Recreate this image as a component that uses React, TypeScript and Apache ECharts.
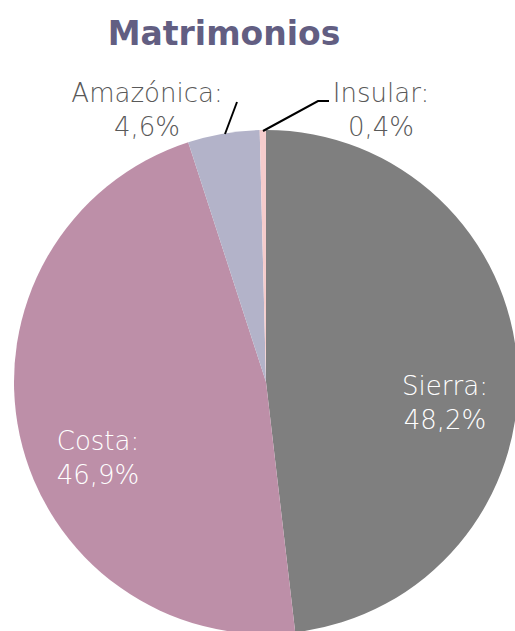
import React, { useEffect, useRef } from "react";
import * as echarts from "echarts";

const categories = ["Sierra", "Costa", "Amazónica", "Insular"];
const values = [48.2, 46.9, 4.6, 0.4];
const valueLabels = ["48,2%", "46,9%", "4,6%", "0,4%"];
const colors = ["#7f7f7f", "#bd8fa8", "#b3b3c9", "#f5cccc"];

const FONT = "'DejaVu Sans', sans-serif";

export default function App() {
  const ref = useRef<HTMLDivElement>(null);
  useEffect(() => {
    if (!ref.current) return;
    const chart = echarts.init(ref.current, null, { renderer: "svg" });
    const labelPos: Record<number, { x: number; y: number }> = {
      0: { x: 445, y: 403 },
      1: { x: 98, y: 458 },
      2: { x: 147, y: 110 },
      3: { x: 381, y: 110 },
    };
    const leaderLines = [
      [[225, 134], [237, 102]],
      [[263, 131], [318, 101], [329, 101]],
    ];
    chart.setOption({
      animation: false,
      title: {
        text: "Matrimonios",
        left: 219,
        top: 12,
        textAlign: "center",
        textStyle: {
          fontFamily: FONT,
          fontWeight: "bold",
          fontSize: 33,
          color: "#625e82",
        },
      },
      graphic: leaderLines.map((pts) => ({
        type: "polyline",
        z: 100,
        shape: { points: pts },
        style: { stroke: "#000000", lineWidth: 2, fill: null },
      })),
      series: [
        {
          type: "pie",
          center: [266, 382],
          radius: 252,
          startAngle: 90,
          clockwise: true,
          avoidLabelOverlap: false,
          itemStyle: { borderWidth: 0 },
          label: { show: true },
          labelLine: { show: false },
          labelLayout: (p: any) => {
            const pos = labelPos[p.dataIndex];
            return {
              x: pos.x,
              y: pos.y,
              align: "center",
              verticalAlign: "middle",
            };
          },
          data: categories.map((c, i) => {
            const inside = i < 2;
            return {
              name: c,
              value: values[i],
              itemStyle: { color: colors[i] },
              label: {
                show: true,
                position: inside ? "inside" : "outside",
                formatter: `${c}:\n${valueLabels[i]}`,
                fontFamily: FONT,
                fontWeight: 300,
                fontSize: 26,
                lineHeight: 34,
                align: "center",
                color: inside ? "#ffffff" : "#595959",
              },
            };
          }),
        },
      ],
    });
    return () => chart.dispose();
  }, []);
  return (
    <div
      ref={ref}
      style={{ position: "absolute", left: 0, top: 0, width: 515, height: 631 }}
    />
  );
}
